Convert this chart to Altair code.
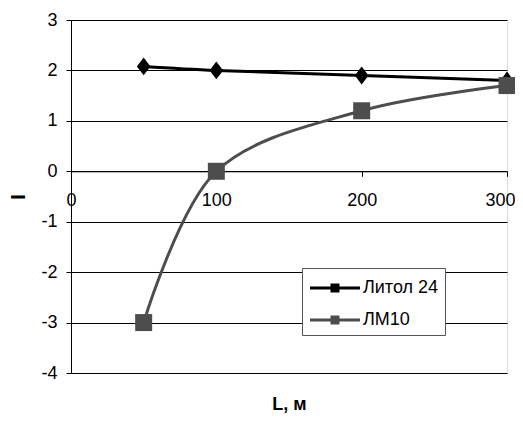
import altair as alt
import pandas as pd

# ---- data ----
x_vals = [50, 100, 200, 300]
series_names = ["Литол 24", "ЛМ10"]
litol24 = [2.08, 2.0, 1.9, 1.8]
lm10 = [-3.0, 0.0, 1.2, 1.7]
x_ticks = [0, 100, 200, 300]
y_ticks = [-4, -3, -2, -1, 0, 1, 2, 3]

rows = []
for name, vals in zip(series_names, [litol24, lm10]):
    for xv, yv in zip(x_vals, vals):
        rows.append({"L": xv, "I": yv, "series": name, "leg": name})
df = pd.DataFrame(rows)

FONT = "Liberation Sans"
W, H = 436, 353
colors = ["#000000", "#4d4d4d"]

diamond = "M0,-1.05L0.8,0L0,1.05L-0.8,0Z"
# legend glyph: line with a small marker (nested rings so a thick stroke fills them)
leg_glyph = ("M-2,0H2"
             "M-0.24,-0.24H0.24V0.24H-0.24Z"
             "M-0.12,-0.12H0.12V0.12H-0.12Z"
             "M-0.02,-0.02H0.02V0.02H-0.02Z")

legend = alt.Legend(
    title=None,
    orient="none",
    legendX=231,
    legendY=248,
    fillColor="white",
    strokeColor="#555555",
    padding=6,
    rowPadding=9,
    symbolType=leg_glyph,
    symbolSize=625,
    symbolOffset=13,
    symbolStrokeWidth=3,
    symbolOpacity=1,
    labelOffset=14,
    labelFont=FONT,
    labelFontSize=18,
    labelColor="black",
)

x_enc = alt.X(
    "L:Q",
    scale=alt.Scale(domain=[0, 300], nice=False),
    axis=alt.Axis(
        values=x_ticks,
        grid=False,
        offset=-H * 4 / 7,
        domainColor="black",
        tickColor="black",
        tickSize=5,
        labelPadding=15,
        labelOffset={"condition": {"test": "datum.value == 300", "value": -7}, "value": 0},
        labelFont=FONT,
        labelFontSize=18,
        labelColor="black",
        labelFlush=False,
        title="L, м",
        titleFont=FONT,
        titleFontSize=18,
        titleFontWeight="bold",
        titleColor="black",
        titleX=W / 2,
        titleY=233,
        titleAlign="center",
        titleBaseline="middle",
    ),
)
y_enc = alt.Y(
    "I:Q",
    scale=alt.Scale(domain=[-4, 3], nice=False),
    axis=alt.Axis(
        values=y_ticks,
        grid=True,
        gridColor="black",
        gridWidth=1,
        domainColor="black",
        tickColor="black",
        tickSize=5,
        labelPadding=9,
        labelExpr="'' + datum.value",
        labelFont=FONT,
        labelFontSize=18,
        labelColor="black",
        title="I",
        titleFont=FONT,
        titleFontSize=20,
        titleFontWeight="bold",
        titleColor="black",
        titleX=-53,
        titleY=H / 2,
        titleAlign="center",
        titleBaseline="middle",
    ),
)

color_scale = alt.Scale(domain=series_names, range=colors)

lines = alt.Chart(df).mark_line(strokeWidth=3, interpolate="catmull-rom").encode(
    x=x_enc,
    y=y_enc,
    color=alt.Color("series:N", scale=color_scale, legend=None),
    detail="series:N",
)

pts_litol = (
    alt.Chart(df)
    .transform_filter(alt.datum.series == series_names[0])
    .mark_point(filled=True, size=289, opacity=1, shape=diamond)
    .encode(x="L:Q", y="I:Q", color=alt.Color("series:N", scale=color_scale, legend=None))
)
pts_lm = (
    alt.Chart(df)
    .transform_filter(alt.datum.series == series_names[1])
    .mark_point(filled=True, size=289, opacity=1, shape="square")
    .encode(x="L:Q", y="I:Q", color=alt.Color("series:N", scale=color_scale, legend=None))
)

# invisible marks that only carry the legend;
# data-driven (sorted) domain so it is not merged with the hidden colour legend
legend_layer = (
    alt.Chart(df)
    .mark_point(filled=False, strokeWidth=3, opacity=0)
    .encode(
        x="L:Q",
        y="I:Q",
        stroke=alt.Stroke("leg:N", sort=series_names, scale=alt.Scale(range=colors), legend=legend),
    )
)

chart = (
    alt.layer(lines, pts_litol, pts_lm, legend_layer)
    .properties(
        width=W,
        height=H,
        autosize=alt.AutoSizeParams(type="none"),
        padding={"left": 63, "top": 12, "right": 8, "bottom": 40},
    )
    .configure_view(stroke="#808080", strokeWidth=1.5)
    .configure(background="white")
)

chart.save("out.html", embed_options={"renderer": "svg", "actions": False})
